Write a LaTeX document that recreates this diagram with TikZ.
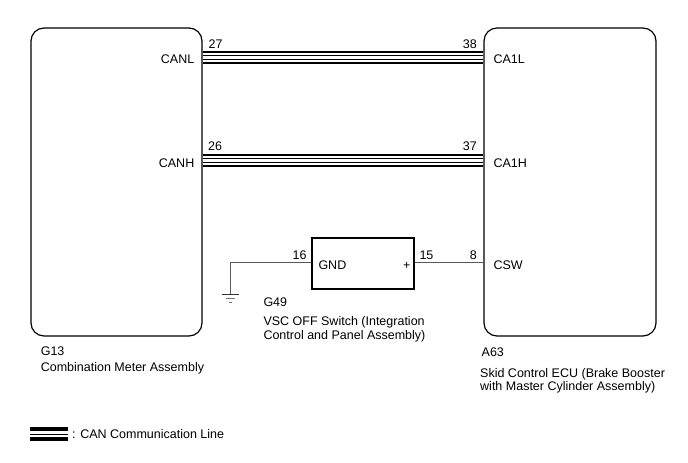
\documentclass[tikz,border=0pt]{standalone}
\usepackage{fontspec}
\setmainfont{Liberation Sans}
\begin{document}
\begin{tikzpicture}[x=1pt,y=-1pt,
  ecubox/.style={draw=black, line width=1.2pt, rounded corners=13pt, inner sep=0pt},
  swbox/.style={draw=black, line width=1.1pt, inner sep=0pt},
  lbl/.style={inner sep=0pt, font=\fontsize{12.5}{14}\selectfont},
  wire/.style={draw=black!65, line width=0.9pt},
  can/.style={draw=black, line width=2pt, double=white, double distance=9pt,
    postaction={draw=black, line width=0.7pt, double=white, double distance=3.3pt}},
  gndline/.style={line width=1.2pt}
]
\useasboundingbox (0,0) rectangle (688,463);

% boxes
\node[ecubox, minimum width=171pt, minimum height=308pt] (g13) at (116.5,182) {};
\node[ecubox, minimum width=172pt, minimum height=308pt] (a63) at (570,182) {};
\node[swbox, minimum width=102pt, minimum height=51pt] (sw) at (363,263.5) {};

% pin coordinates
\coordinate (canlA) at (g13.east |- 0,57.2);
\coordinate (canlB) at (a63.west |- 0,57.2);
\coordinate (canhA) at (g13.east |- 0,160.2);
\coordinate (canhB) at (a63.west |- 0,160.2);
\coordinate (swL) at (sw.west |- 0,262.5);
\coordinate (swR) at (sw.east |- 0,262.5);
\coordinate (csw) at (a63.west |- 0,262.5);
\coordinate (gbend) at (230.5,262.5);
\coordinate (gnd) at (230.5,294.3);

% CAN lines
\draw[can] (canlA) -- (canlB);
\draw[can] (canhA) -- (canhB);

% wires
\draw[wire] (swR) -- (csw);
\draw[wire] (swL) -- (gbend) -- (gnd);

% ground symbol
\draw[gndline, draw=black!80] ([xshift=-8.8pt]gnd) -- ([xshift=8.5pt]gnd);
\draw[line width=1pt, draw=black!55] ([xshift=-4.5pt,yshift=-4.4pt]gnd) -- ([xshift=4.5pt,yshift=-4.4pt]gnd);
\draw[line width=1pt, draw=black!55] ([xshift=-2pt,yshift=-8pt]gnd) -- ([xshift=1.8pt,yshift=-8pt]gnd);

% pin labels
\node[lbl, anchor=base east] (tcanl) at (194.5,63.3) {CANL};
\node[lbl, anchor=base east] (tcanh) at (194.5,167.7) {CANH};
\node[lbl, anchor=base west] (t27) at (208.5,48.3) {27};
\node[lbl, anchor=base west] (t26) at (208,150.7) {26};
\node[lbl, anchor=base east] (t38) at (477,48.3) {38};
\node[lbl, anchor=base east] (t37) at (477,150.7) {37};
\node[lbl, anchor=base west] (tca1l) at (493.3,63.3) {CA1L};
\node[lbl, anchor=base west] (tca1h) at (493.3,167.7) {CA1H};
\node[lbl, anchor=base east] (t16) at (306.7,259) {16};
\node[lbl, anchor=base west] (tgnd) at (318.3,269.3) {GND};
\node[lbl, anchor=base] (tplus) at (406.7,269.3) {+};
\node[lbl, anchor=base west] (t15) at (419.3,259) {15};
\node[lbl, anchor=base east] (t8) at (477,259) {8};
\node[lbl, anchor=base west] (tcsw) at (493.3,269.3) {CSW};

% component labels
\node[lbl, anchor=base west] (tg49) at (263.3,306) {G49};
\node[lbl, anchor=base west] (tsw1) at (263.3,325.3) {VSC OFF Switch (Integration};
\node[lbl, anchor=base west] (tsw2) at (263.3,339.6) {Control and Panel Assembly)};
\node[lbl, anchor=base west] (tg13) at (40.6,355.7) {G13};
\node[lbl, anchor=base west] (tcm) at (40.6,371.7) {Combination Meter Assembly};
\node[lbl, anchor=base west] (ta63) at (481.5,356.7) {A63};
\node[lbl, anchor=base west] (tsk1) at (480,377) {Skid Control ECU (Brake Booster};
\node[lbl, anchor=base west] (tsk2) at (480,390) {with Master Cylinder Assembly)};

% legend
\coordinate (legA) at (29.6,434.2);
\coordinate (legB) at (68.4,434.2);
\draw[line width=4pt] ([yshift=-5pt]legA) -- ([yshift=-5pt]legB);
\draw[line width=1pt] (legA) -- (legB);
\draw[line width=4pt] ([yshift=5pt]legA) -- ([yshift=5pt]legB);
\node[lbl, anchor=base west] (tleg) at (72,438.8) {: CAN Communication Line};
\end{tikzpicture}
\end{document}
